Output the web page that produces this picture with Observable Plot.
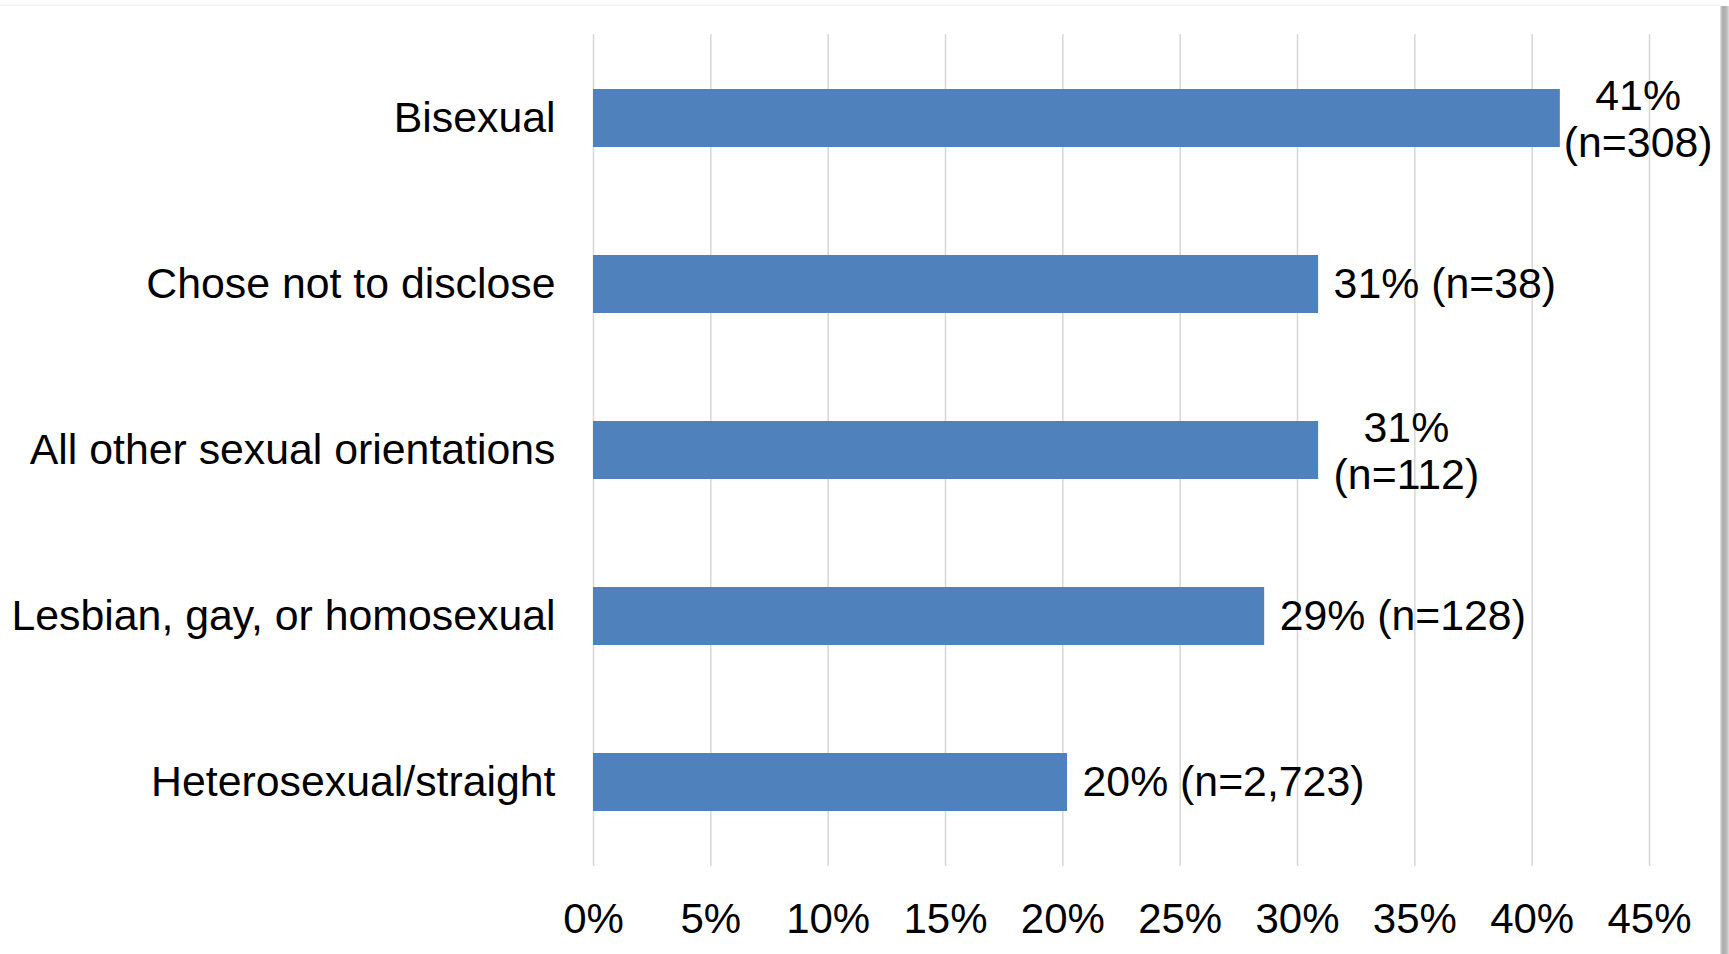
<!DOCTYPE html>
<html>
<head>
<meta charset="utf-8">
<script src="https://cdn.jsdelivr.net/npm/d3@7"></script>
<script src="https://cdn.jsdelivr.net/npm/@observablehq/plot@0.6"></script>
<style>
  html, body { margin: 0; padding: 0; background: #ffffff; overflow: hidden; }
  #wrap { position: relative; width: 1729px; height: 954px; }
  #topline { position: absolute; left: 0; top: 4px; width: 1720px; height: 2px;
    background: linear-gradient(to bottom, #fafafa, #efefef); }
  #shadow { position: absolute; left: 1720px; top: 6px; width: 9px; height: 948px;
    background: linear-gradient(to right, #e6e6e6 0%, #a9a9a9 30%, #b8b8b8 70%, #dcdcdc 100%); }
  #chart { position: absolute; left: 0; top: 0; }
</style>
</head>
<body>
<div id="wrap">
  <div id="topline"></div>
  <div id="shadow"></div>
  <div id="chart"></div>
</div>
<script>
// ---- data ----
const categories = [
  "Bisexual",
  "Chose not to disclose",
  "All other sexual orientations",
  "Lesbian, gay, or homosexual",
  "Heterosexual/straight"
];
const values = [41.2, 30.9, 30.9, 28.6, 20.2];
const valueLabels = [
  "41%\n(n=308)",
  "31% (n=38)",
  "31%\n(n=112)",
  "29% (n=128)",
  "20% (n=2,723)"
];
const xTicks = [0, 5, 10, 15, 20, 25, 30, 35, 40, 45];

// ---- layout ----
const W = 1729, H = 954;
const ML = 593, MR = 80, MT = 34, MB = 88;
const FONT = "'Liberation Sans', Arial, Helvetica, sans-serif";
const FS = 42.8;
const FS_TICK = 42;
const GAP = 15;
const RIGHT_LIMIT = 1712;

const data = categories.map((c, i) => ({category: c, value: values[i], label: valueLabels[i]}));

const xScale = Plot.scale({x: {domain: [0, 45], range: [ML, W - MR]}});

const canvas = document.createElement("canvas");
const ctx = canvas.getContext("2d");
ctx.font = `${FS}px ${FONT}`;
const measure = s => ctx.measureText(s).width;

const labelMarks = data.map(d => {
  const lines = d.label.split("\n");
  if (lines.length === 1) {
    return Plot.text([d], {
      x: "value", y: "category", text: "label",
      textAnchor: "start", dx: GAP, lineAnchor: "middle",
      fill: "#000", fontSize: FS
    });
  }
  const w = Math.max(...lines.map(measure));
  const end = xScale.apply(d.value);
  let center = end + GAP + w / 2;
  if (center + w / 2 > RIGHT_LIMIT) center = RIGHT_LIMIT - w / 2;
  return Plot.text([d], {
    x: "value", y: "category", text: "label",
    textAnchor: "middle", dx: center - end, lineAnchor: "middle",
    lineHeight: 1.1, fill: "#000", fontSize: FS
  });
});

const chart = Plot.plot({
  width: W,
  height: H,
  marginLeft: ML,
  marginRight: MR,
  marginTop: MT,
  marginBottom: MB,
  style: {
    fontFamily: FONT,
    fontSize: FS + "px",
    color: "#000",
    background: "transparent",
    overflow: "visible"
  },
  x: {domain: [0, 45]},
  y: {domain: categories, paddingInner: 0.65, paddingOuter: 0.325},
  marks: [
    Plot.ruleX(xTicks, {stroke: "#d9d9d9", strokeWidth: 1.6}),
    Plot.barX(data, {x: "value", y: "category", fill: "#4f81bd"}),
    Plot.axisX({ticks: xTicks, tickFormat: d => d + "%", tickSize: 0, tickPadding: 37,
      fontSize: FS_TICK, fill: "#000", label: null}),
    Plot.axisY({tickSize: 0, tickPadding: 38, fontSize: FS, fill: "#000", label: null}),
    ...labelMarks
  ]
});

document.getElementById("chart").appendChild(chart);
</script>
</body>
</html>
